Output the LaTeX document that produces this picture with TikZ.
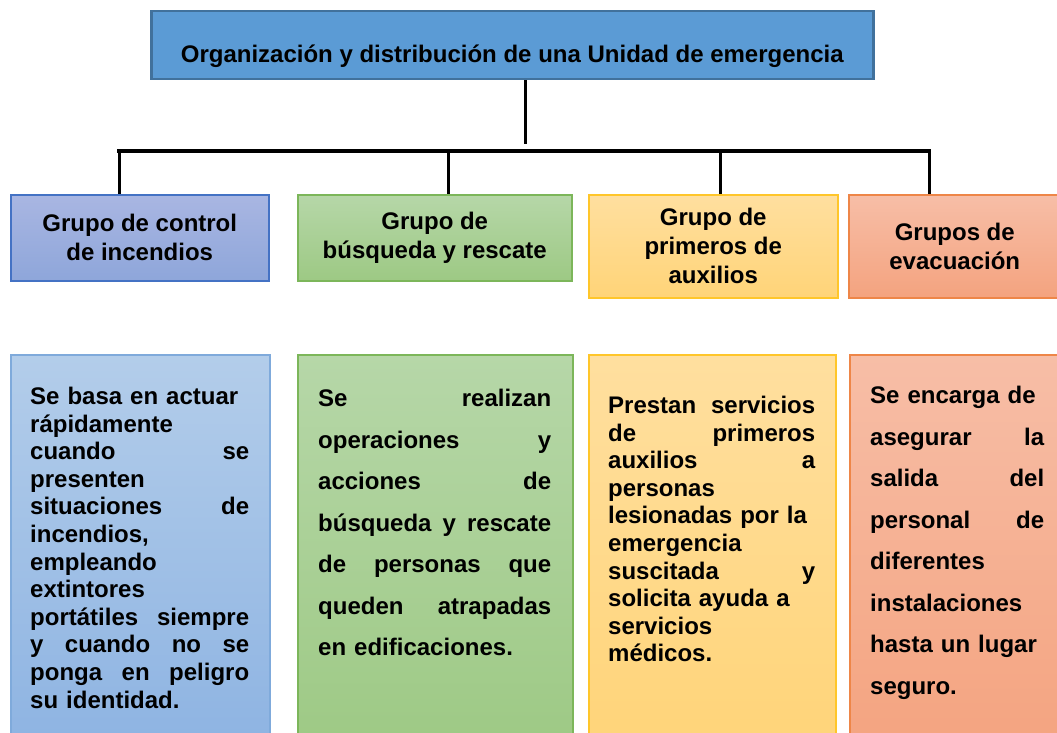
\documentclass[tikz,border=0pt]{standalone}
\usepackage{fontspec}
\setmainfont{Liberation Sans}
\usetikzlibrary{positioning}

\definecolor{orgfill}{HTML}{5B9BD5}
\definecolor{orgline}{HTML}{41719C}
\definecolor{blutop}{HTML}{A9B6E2}
\definecolor{blubot}{HTML}{8EA6DA}
\definecolor{bluline}{HTML}{4472C4}
\definecolor{skytop}{HTML}{B3CDEA}
\definecolor{skybot}{HTML}{8DB3E2}
\definecolor{skyline}{HTML}{7FAADB}
\definecolor{grntop}{HTML}{B6D7A8}
\definecolor{grnbot}{HTML}{9DC984}
\definecolor{grnline}{HTML}{7CB65A}
\definecolor{ylwtop}{HTML}{FFDF9F}
\definecolor{ylwbot}{HTML}{FFD478}
\definecolor{ylwline}{HTML}{FFC62A}
\definecolor{saltop}{HTML}{F7BEA7}
\definecolor{salbot}{HTML}{F4A37F}
\definecolor{salline}{HTML}{EE8648}

\begin{document}
\begin{tikzpicture}[
  x=1pt, y=-1pt,
  font=\bfseries,
  ttl/.style={draw=orgline, line width=2.5pt, fill=orgfill, anchor=north west,
    font=\fontsize{24}{29}\selectfont\bfseries,
    inner ysep=12pt, text height=39pt, text depth=5pt},
  hd/.style={line width=1.5pt, anchor=north west, inner sep=0pt, align=center,
    font=\fontsize{24}{29}\selectfont\bfseries},
  dbox/.style={line width=1.5pt, anchor=north west, inner sep=0pt, minimum height=400pt},
  dtext/.style={text width=#1, align=left, inner sep=0pt,
    font=\fontsize{24}{27.6}\selectfont\bfseries},
  wide/.style={font=\fontsize{24}{41.5}\selectfont\bfseries},
  link/.style={line width=3pt},
  bar/.style={line width=4.5pt, line cap=rect},
]
\clip (0,0) rectangle (1057,733);

%% ============ title ============
\node[ttl, minimum width=722pt] (org) at (150,10) {Organización y distribución de una Unidad de emergencia};

%% ============ group headers ============
\node[hd, minimum width=258pt, minimum height=86pt, draw=bluline, top color=blutop, bottom color=blubot] (g1) at (10,194) {Grupo de control\\de incendios};
\node[hd, minimum width=274pt, minimum height=86pt, draw=grnline, top color=grntop, bottom color=grnbot] (g2) at (297,194) {Grupo de\\búsqueda y rescate};
\node[hd, minimum width=249pt, minimum height=103pt, draw=ylwline, top color=ylwtop, bottom color=ylwbot] (g3) at (588,194) {Grupo de\\primeros de\\auxilios};
\node[hd, minimum width=212pt, minimum height=103pt, draw=salline, top color=saltop, bottom color=salbot] (g4) at (848,194) {Grupos de\\evacuación};

%% ============ description boxes ============
\node[dbox, minimum width=259pt, draw=skyline, top color=skytop, bottom color=skybot] (d1) at (10,354) {};
\node[dbox, minimum width=275pt, draw=grnline, top color=grntop, bottom color=grnbot] (d2) at (297,354) {};
\node[dbox, minimum width=247pt, draw=ylwline, top color=ylwtop, bottom color=ylwbot] (d3) at (588,354) {};
\node[dbox, minimum width=216pt, draw=salline, top color=saltop, bottom color=salbot] (d4) at (849,354) {};

\node[dtext=219pt, below right=33pt and 20pt of d1.north west] (t1) {Se basa en actuar\\
  rápidamente\\
  cuando\hfill se\\
  presenten\\
  situaciones\hfill de\\
  incendios,\\
  empleando\\
  extintores\\
  portátiles\hfill siempre\\
  y\hfill cuando\hfill no\hfill se\\
  ponga\hfill en\hfill peligro\\
  su identidad.};
\node[dtext=233pt, wide, below right=35pt and 21pt of d2.north west] (t2) {Se\hfill realizan\\
  operaciones\hfill y\\
  acciones\hfill de\\
  búsqueda\hfill y\hfill rescate\\
  de\hfill personas\hfill que\\
  queden\hfill atrapadas\\
  en edificaciones.};
\node[dtext=207pt, below right=42pt and 20pt of d3.north west] (t3) {Prestan\hfill servicios\\
  de\hfill primeros\\
  auxilios\hfill a\\
  personas\\
  lesionadas por la\\
  emergencia\\
  suscitada\hfill y\\
  solicita ayuda a\\
  servicios\\
  médicos.};
\node[dtext=174pt, wide, below right=32pt and 21pt of d4.north west] (t4) {Se encarga de\\
  asegurar\hfill la\\
  salida\hfill del\\
  personal\hfill de\\
  diferentes\\
  instalaciones\\
  hasta un lugar\\
  seguro.};

%% ============ connectors ============
\coordinate (tdrop) at (525,144);
\coordinate (bl) at (119,151);
\coordinate (b2) at (448,151);
\coordinate (b3) at (720,151);
\coordinate (br) at (929,151);
\draw[link] (org.south -| tdrop) -- (tdrop);
\draw[bar] (bl) -- (br);
\draw[link] (bl) -- (bl |- g1.north);
\draw[link] (b2) -- (b2 |- g2.north);
\draw[link] (b3) -- (b3 |- g3.north);
\draw[link] (br) -- (br |- g4.north);

\end{tikzpicture}
\end{document}
